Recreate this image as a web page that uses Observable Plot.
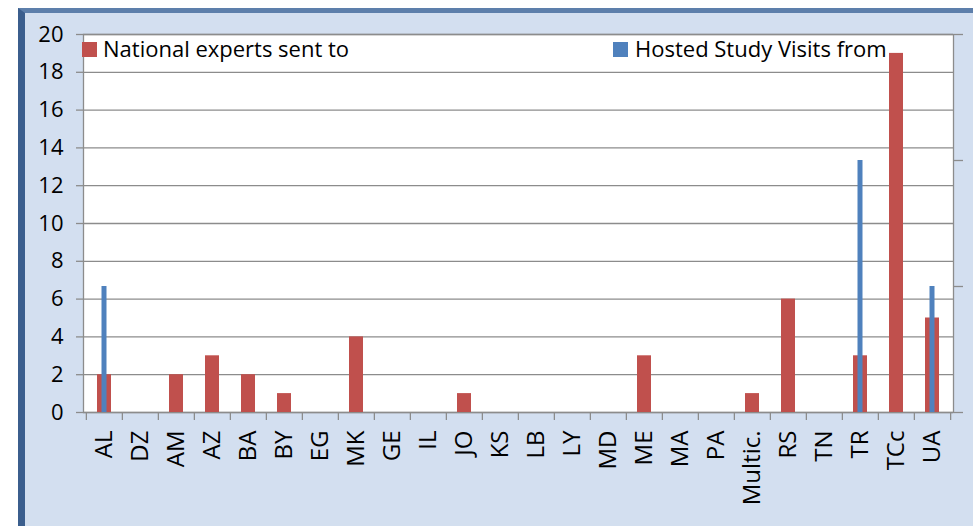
<!DOCTYPE html>
<html>
<head>
<meta charset="utf-8">
<script src="https://cdn.jsdelivr.net/npm/d3@7"></script>
<script src="https://cdn.jsdelivr.net/npm/@observablehq/plot@0.6"></script>
<style>
  html, body { margin: 0; padding: 0; background: #ffffff; }
  #wrap { position: relative; width: 973px; height: 526px; overflow: hidden; font-family: "Open Sans", Lato, sans-serif; }
  #panel { position: absolute; left: 18px; top: 8px; width: 955px; height: 518px; box-sizing: border-box;
           background: #d3dfef; border-top: 5px solid #5d7fab; border-left: 7px solid #3b5e8d; }
  #panel-inner { position: absolute; left: 5px; top: 0; right: 0; bottom: 6px; background: #d3dff0; }
  .layer { position: absolute; left: 0; top: 0; }
  .leg { position: absolute; font-size: 22px; line-height: 1; color: #000; white-space: nowrap; }
  .sw { position: absolute; width: 15px; height: 15px; }
</style>
</head>
<body>
<div id="wrap">
  <div id="panel"><div id="panel-inner"></div></div>
</div>
<script>
const categories = ["AL","DZ","AM","AZ","BA","BY","EG","MK","GE","IL","JO","KS","LB","LY","MD","ME","MA","PA","Multic.","RS","TN","TR","TCc","UA"];
const expertsSent = [2,0,2,3,2,1,0,4,0,0,1,0,0,0,0,3,0,0,1,6,0,3,19,5];
const studyVisits = [1,0,0,0,0,0,0,0,0,0,0,0,0,0,0,0,0,0,0,0,0,2,0,1];
const yTicks = [0,2,4,6,8,10,12,14,16,18,20];
const y2Ticks = [0,1,2,3];
const seriesNames = ["National experts sent to", "Hosted Study Visits from"];
const seriesColors = ["#c0504d", "#4f81bd"];

const rows = categories.map((c, i) => ({cat: c, sent: expertsSent[i], visits: studyVisits[i]}));

const W = 973, H = 526;
const mL = 83, mR = 20, mT = 34, mB = 114;
const step = (W - mL - mR) / categories.length;
const grid = "#8c8c8c";

const common = {
  width: W, height: H,
  marginLeft: mL, marginRight: mR, marginTop: mT, marginBottom: mB,
  style: {background: "transparent", fontFamily: "'Open Sans', Lato, sans-serif", fontSize: "22px", color: "#000", overflow: "visible"}
};

const main = Plot.plot({
  ...common,
  x: {domain: categories, padding: 0, label: null},
  y: {domain: [0, 20], label: null},
  marks: [
    Plot.frame({fill: "white", stroke: grid, strokeWidth: 1.3}),
    Plot.gridY(yTicks, {stroke: grid, strokeOpacity: 1, strokeWidth: 1.3}),
    Plot.barY(rows, {x: "cat", y: "sent", fill: seriesColors[0], insetLeft: 11, insetRight: 11}),
    Plot.axisY(yTicks, {tickSize: 7, tickPadding: 13, stroke: grid, strokeWidth: 1.3, fill: "#000", label: null}),
    Plot.axisX({tickSize: 0, tickRotate: -90, tickPadding: 18, fontSize: 24, fill: "#000", label: null}),
    Plot.ruleX(categories, {x: d => d, dx: -step / 2, y1: 0, y2: 0, insetBottom: -8, stroke: grid, strokeWidth: 1.3}),
    Plot.ruleX([categories[categories.length - 1]], {x: d => d, dx: step / 2, y1: 0, y2: 0, insetBottom: -8, stroke: grid, strokeWidth: 1.3})
  ]
});
main.classList.add("layer");

const overlay = Plot.plot({
  ...common,
  x: {domain: categories, padding: 0, axis: null},
  y: {domain: [0, 3], axis: null},
  marks: [
    Plot.barY(rows, {x: "cat", y: "visits", fill: seriesColors[1], insetLeft: 15.5, insetRight: 15.5}),
    Plot.axisY(y2Ticks, {anchor: "right", tickSize: 9, tickFormat: () => "", stroke: grid, strokeWidth: 1.3, label: null})
  ]
});
overlay.classList.add("layer");

const wrap = document.getElementById("wrap");
wrap.appendChild(main);
wrap.appendChild(overlay);

// legend
const legendPos = [{sx: 82, tx: 103}, {sx: 613, tx: 635}];
seriesNames.forEach((name, i) => {
  const sw = document.createElement("div");
  sw.className = "sw";
  sw.style.left = legendPos[i].sx + "px";
  sw.style.top = "42px";
  sw.style.background = seriesColors[i];
  wrap.appendChild(sw);
  const t = document.createElement("div");
  t.className = "leg";
  t.style.left = legendPos[i].tx + "px";
  t.style.top = "37px";
  t.textContent = name;
  wrap.appendChild(t);
});
</script>
</body>
</html>
